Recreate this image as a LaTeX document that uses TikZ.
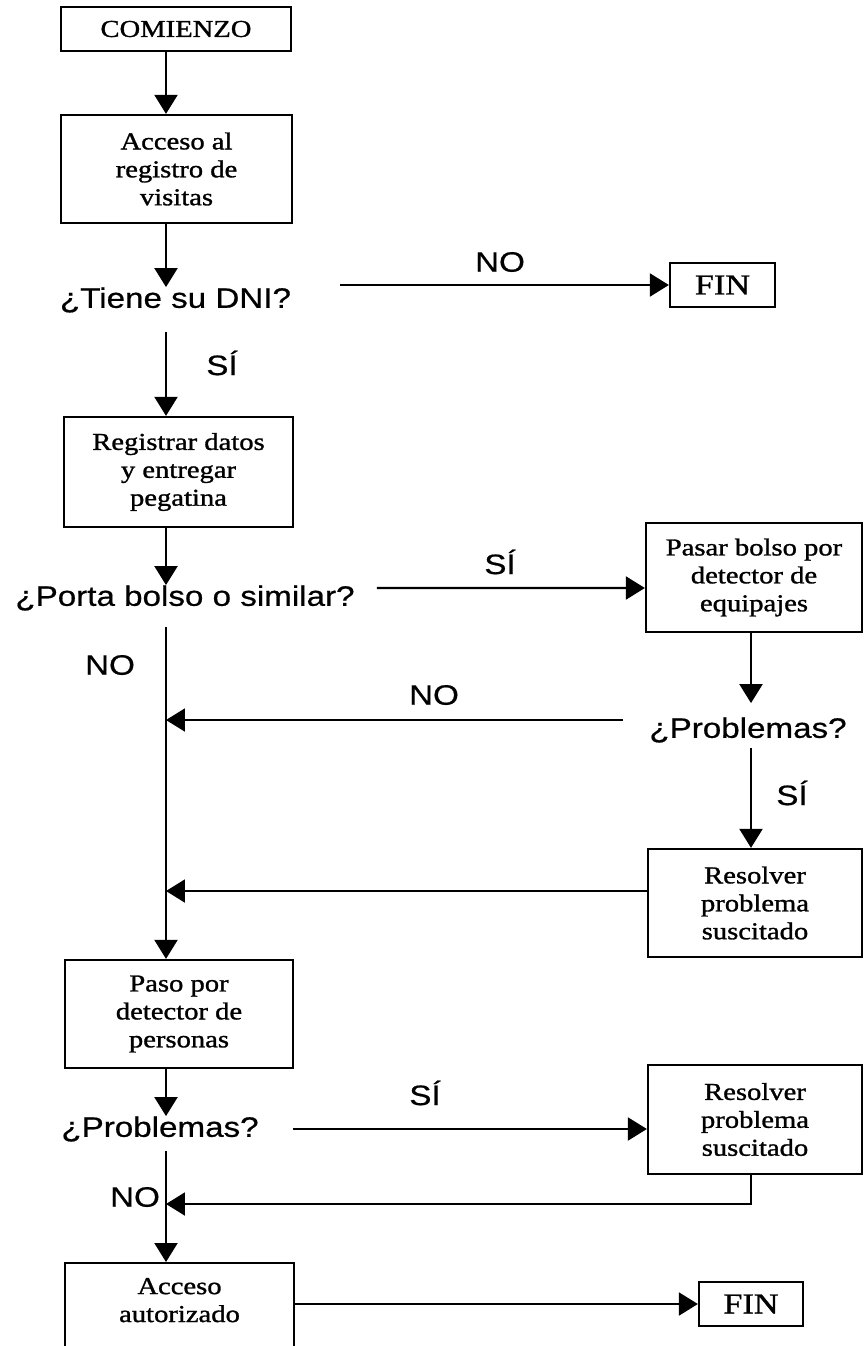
\documentclass[tikz,border=0pt]{standalone}
\usepackage{fontspec}
\setmainfont{Liberation Serif}[FakeStretch=1.18,FakeBold=1.2]
\newfontfamily\flowsans{Liberation Sans}[FakeStretch=1.18,FakeBold=0.6]
\usetikzlibrary{arrows.meta}
\newcommand{\boxfont}{\fontsize{13.8}{15.9}\selectfont}
\newcommand{\quesfont}{\flowsans\fontsize{16}{18}\selectfont}
\tikzset{box/.style={draw,line width=1.3pt,align=center,font=\boxfont,inner sep=2pt}}
\tikzset{endbox/.style={box,font=\fontsize{16.5}{18}\selectfont,
                        minimum height=0.88cm}}
\tikzset{quest/.style={inner sep=0pt,font=\quesfont}}
\tikzset{lab/.style={inner sep=0pt,font=\quesfont}}
\tikzset{link/.style={line width=1.2pt,-{Triangle[length=0.38cm,width=0.46cm]}}}

\begin{document}
\begin{tikzpicture}[x=0.02cm,y=-0.02cm]
    \useasboundingbox (0,0) rectangle (866,1346);
    \coordinate (spine) at (166,0);
    \coordinate (rcol) at (751,0);
    \coordinate (merge) at (166,1204);
    % Boxes
    \node[box,minimum width=4.6cm,minimum height=0.88cm] (start) at (176,29) {COMIENZO};
    \node[box,minimum width=4.62cm,minimum height=2.16cm] (acc) at (176.5,169)
         {Acceso al\\registro de\\visitas};
    \node[box,minimum width=4.58cm,minimum height=2.2cm] (reg) at (178.5,472)
         {Registrar datos\\y entregar\\pegatina};
    \node[box,minimum width=4.32cm,minimum height=2.18cm] (pasar) at (754,577.5)
         {Pasar bolso por\\detector de\\equipajes};
    \node[box,minimum width=4.28cm,minimum height=2.16cm] (res1) at (755,903)
         {Resolver\\problema\\suscitado};
    \node[box,minimum width=4.56cm,minimum height=2.16cm] (paso) at (179,1014)
         {Paso por\\detector de\\personas};
    \node[box,minimum width=4.28cm,minimum height=2.18cm] (res2) at (755,1119.5)
         {Resolver\\problema\\suscitado};
    \node[box,minimum width=4.58cm,anchor=north,inner ysep=8.5pt] (auth) at (179.5,1262)
         {Acceso\\autorizado\rule[-1.6cm]{0pt}{0pt}};
    \node[endbox,minimum width=2.1cm] (fin1) at (722.5,285) {FIN};
    \node[endbox,minimum width=2.08cm] (fin2) at (751,1304) {FIN};
    % Questions
    \node[quest] (q1) at (175.5,300) {¿Tiene su DNI?};
    \node[quest] (q2) at (185,598) {¿Porta bolso o similar?};
    \node[quest] (q3) at (748,730) {¿Problemas?};
    \node[quest] (q4) at (160,1129) {¿Problemas?};
    % Connectors
    \draw[link] (start.south -| spine) -- (acc.north -| spine);
    \draw[link] (acc.south -| spine) -- (q1.north -| spine);
    \draw[link,shorten <=0.98cm] (q1.east |- fin1.west) -- (fin1.west);
    \draw[link,shorten <=0.38cm] (q1.south -| spine) -- (reg.north -| spine);
    \draw[link] (reg.south -| spine) -- (q2.north -| spine);
    \draw[link,shorten <=0.44cm] ([yshift=0.2cm]q2.east) -- ([yshift=-0.21cm]pasar.west);
    \draw[link,shorten <=0.32cm] (q2.south -| spine) -- (paso.north -| spine);
    \draw[link,shorten >=0.28cm] (pasar.south -| rcol) -- (q3.north -| rcol);
    \draw[link,shorten <=0.52cm] ([yshift=0.2cm]q3.west) -- ([yshift=0.2cm]q3.west -| spine);
    \draw[link,shorten <=0.1cm] (q3.south -| rcol) -- (res1.north -| rcol);
    \draw[link] ([yshift=0.24cm]res1.west) -- ([yshift=0.24cm]res1.west -| spine);
    \draw[link] (paso.south -| spine) -- (q4.north -| spine);
    \draw[link,shorten <=0.68cm] (q4.east) -- (q4.east -| res2.west);
    \draw[link] (res2.south -| rcol) |- (merge);
    \draw[link,shorten <=0.18cm] (q4.south -| spine) -- (auth.north -| spine);
    \draw[link] (auth.east |- fin2.west) -- (fin2.west);
    % Labels
    \foreach \t/\x/\y [count=\i] in {NO/500/262,SÍ/222/363,SÍ/500/562,NO/110/665,
                                    NO/434/695,SÍ/792/793,SÍ/425/1093,NO/135/1197}{%
        \node[lab] (lab\i) at (\x,\y) {\t};
    }
\end{tikzpicture}
\end{document}
